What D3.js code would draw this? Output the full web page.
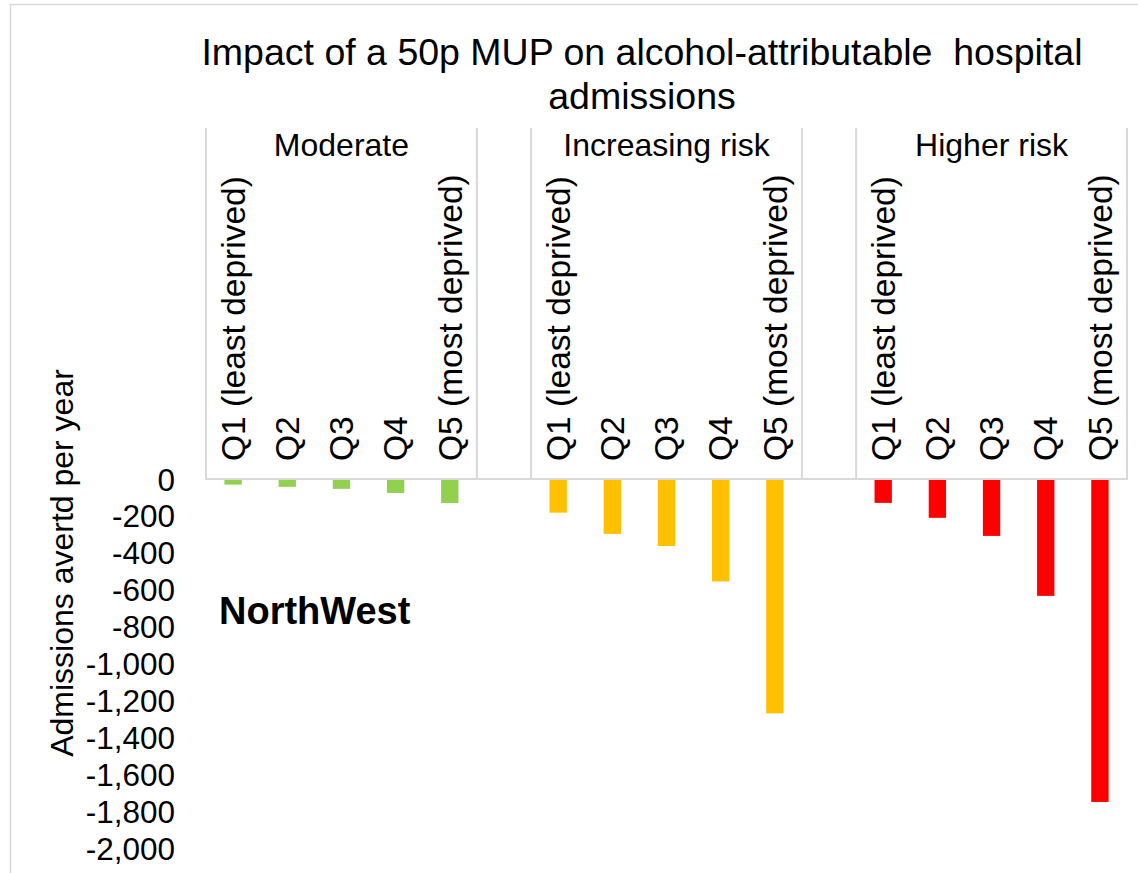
<!DOCTYPE html>
<html>
<head>
<meta charset="utf-8">
<script src="https://cdn.jsdelivr.net/npm/d3@7"></script>
<style>
  html, body { margin: 0; padding: 0; background: #fff; }
  svg { display: block; font-family: "Liberation Sans", Arial, sans-serif; }
</style>
</head>
<body>
<svg id="chart" width="1138" height="873"></svg>
<script>
// Drinker groups and deprivation quintiles
const groups = ["Moderate", "Increasing risk", "Higher risk"];
const quintiles = ["Q1 (least deprived)", "Q2", "Q3", "Q4", "Q5 (most deprived)"];

// Admissions averted per year, by quintile, for each drinker group
const moderate = [-25, -37, -48, -70, -125];
const increasingRisk = [-177, -292, -358, -550, -1265];
const higherRisk = [-124, -205, -303, -628, -1745];

const groupColors = ["#92D050", "#FFC000", "#FF0000"];
const yTicks = [0, -200, -400, -600, -800, -1000, -1200, -1400, -1600, -1800, -2000];

const titleLines = ["Impact of a 50p MUP on alcohol-attributable\u00a0 hospital", "admissions"];
const yTitle = "Admissions avertd per year";
const regionLabel = "NorthWest";

// Category slots: five quintiles per group, with an empty slot between groups
const seriesByGroup = [moderate, increasingRisk, higherRisk];
const slots = [];
const groupStarts = [];
groups.forEach((g, gi) => {
  if (gi > 0) slots.push({ key: "gap" + gi, group: gi, label: null, value: null });
  groupStarts.push(slots.length);
  quintiles.forEach((q, qi) => {
    slots.push({ key: g + "|" + q, group: gi, label: q, value: seriesByGroup[gi][qi] });
  });
});

const svg = d3.select("#chart");
const plotLeft = 206, plotRight = 1127, plotTop = 128, zeroY = 480, bottomY = 849;

const x = d3.scaleBand().domain(slots.map(d => d.key))
  .range([plotLeft, plotRight]).paddingInner(0.68).paddingOuter(0.34);
const y = d3.scaleLinear().domain([0, -2000]).range([zeroY, bottomY]);

// Chart area border
svg.append("rect")
  .attr("x", 10.5).attr("y", 4.5).attr("width", 1140).attr("height", 880)
  .attr("fill", "none").attr("stroke", "#D9D9D9").attr("stroke-width", 1.5);

// Title
svg.append("text")
  .attr("x", 642).attr("y", 65)
  .attr("text-anchor", "middle").attr("font-size", 37.5).attr("fill", "#000")
  .selectAll("tspan").data(titleLines).join("tspan")
  .attr("x", 642).attr("dy", (d, i) => i === 0 ? 0 : 44)
  .text(d => d);

// Bars
svg.append("g").selectAll("rect")
  .data(slots.filter(d => d.value !== null))
  .join("rect")
  .attr("x", d => x(d.key))
  .attr("width", x.bandwidth())
  .attr("y", y(0))
  .attr("height", d => y(d.value) - y(0))
  .attr("fill", d => groupColors[d.group]);

// Multi-level category axis: group dividers and baseline
const step = x.step();
const dividerXs = [];
groupStarts.forEach(s => {
  const x0 = plotLeft + s * step;
  dividerXs.push(x0, x0 + 5 * step);
});
svg.append("g").selectAll("line").data(dividerXs).join("line")
  .attr("x1", d => d).attr("x2", d => d)
  .attr("y1", plotTop).attr("y2", zeroY - 1)
  .attr("stroke", "#D9D9D9").attr("stroke-width", 2);

svg.append("line")
  .attr("x1", plotLeft - 1).attr("x2", plotRight + 1)
  .attr("y1", zeroY - 1).attr("y2", zeroY - 1)
  .attr("stroke", "#D9D9D9").attr("stroke-width", 2);

// Group labels
svg.append("g").selectAll("text").data(groups).join("text")
  .attr("x", (d, i) => plotLeft + (groupStarts[i] + 2.5) * step)
  .attr("y", 156)
  .attr("text-anchor", "middle").attr("font-size", 32).attr("fill", "#000")
  .text(d => d);

// Quintile labels, rotated
svg.append("g").selectAll("text")
  .data(slots.filter(d => d.label))
  .join("text")
  .attr("transform", d => `translate(${x(d.key) + x.bandwidth() / 2},461) rotate(-90)`)
  .attr("dy", "0.35em")
  .attr("text-anchor", "start").attr("font-size", 33.5).attr("fill", "#000")
  .text(d => d.label);

// Value axis
const fmt = d3.formatLocale({ decimal: ".", thousands: ",", grouping: [3], currency: ["", ""], minus: "-" }).format(",");
const yAxis = svg.append("g")
  .attr("transform", `translate(${plotLeft},0)`)
  .call(d3.axisLeft(y).tickValues(yTicks).tickSize(0).tickPadding(31).tickFormat(fmt));
yAxis.select(".domain").remove();
yAxis.selectAll("text")
  .attr("font-size", 31.5).attr("fill", "#000")
  .attr("font-family", "Liberation Sans, Arial, sans-serif");

// Value axis title
svg.append("text")
  .attr("transform", "translate(73,563) rotate(-90)")
  .attr("text-anchor", "middle").attr("font-size", 32).attr("fill", "#000")
  .text(yTitle);

// Region label
svg.append("text")
  .attr("x", 219).attr("y", 624)
  .attr("font-size", 38).attr("font-weight", "bold").attr("fill", "#000")
  .text(regionLabel);
</script>
</body>
</html>
